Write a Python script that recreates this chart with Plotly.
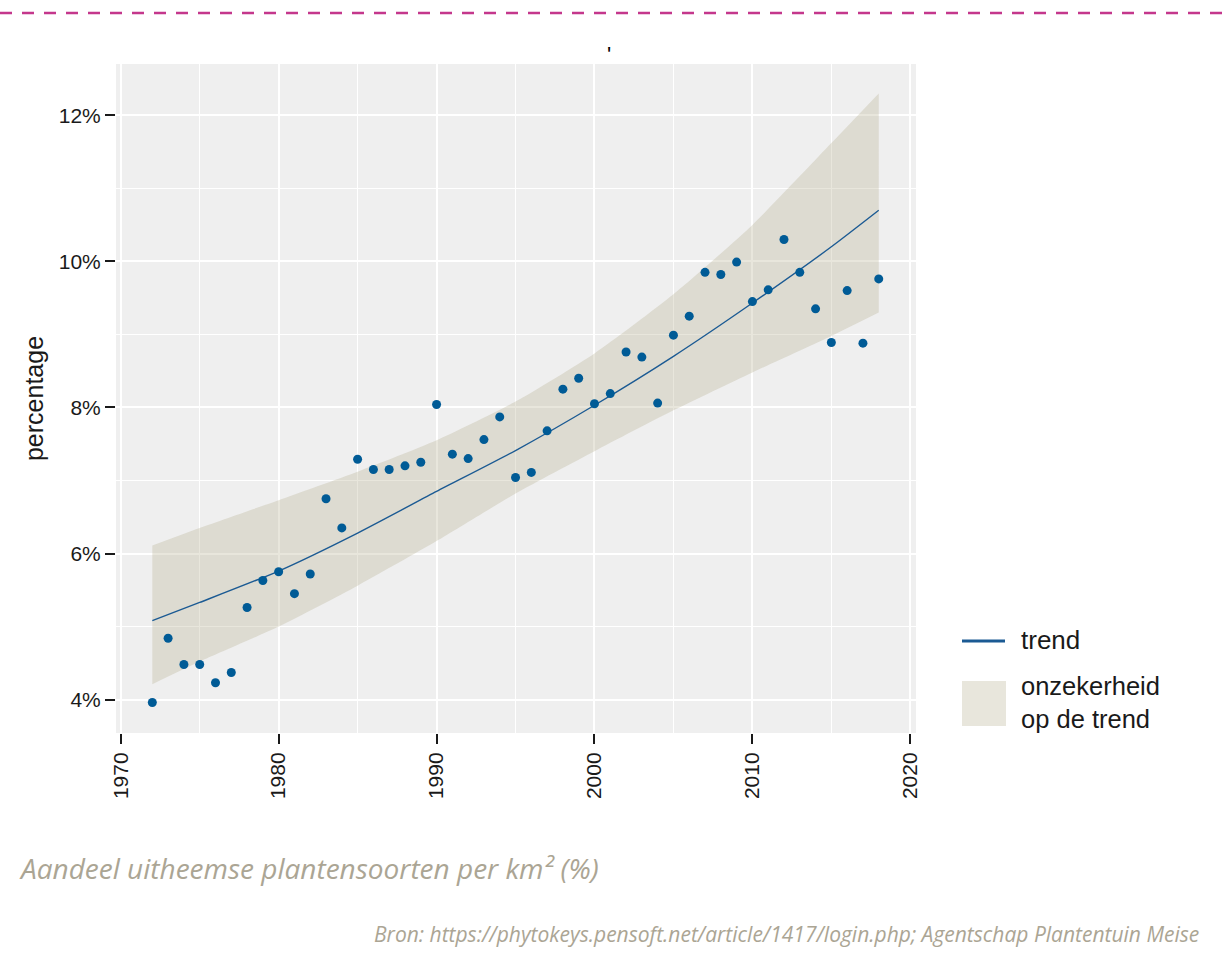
import plotly.graph_objects as go

# Observed share of non-native plant species per km², one value per year
years = list(range(1972, 2019))
share = [3.96, 4.84, 4.48, 4.48, 4.23, 4.37, 5.26, 5.63, 5.75, 5.45,
         5.72, 6.75, 6.35, 7.29, 7.15, 7.15, 7.20, 7.25, 8.04, 7.36,
         7.30, 7.56, 7.87, 7.04, 7.11, 7.68, 8.25, 8.40, 8.05, 8.19,
         8.76, 8.69, 8.06, 8.99, 9.25, 9.85, 9.82, 9.99, 9.45, 9.61,
         10.30, 9.85, 9.35, 8.89, 9.60, 8.88, 9.76]

# Fitted trend with its uncertainty band
fit_years = [1972, 1975, 1980, 1985, 1990, 1995, 2000, 2005, 2010, 2015, 2018]
trend = [5.08, 5.33, 5.76, 6.28, 6.85, 7.41, 8.03, 8.70, 9.43, 10.20, 10.70]
trend_low = [4.21, 4.52, 5.00, 5.56, 6.17, 6.82, 7.40, 7.96, 8.48, 8.98, 9.30]
trend_high = [6.11, 6.35, 6.73, 7.12, 7.55, 8.08, 8.74, 9.55, 10.50, 11.62, 12.30]

y_ticks = [4, 6, 8, 10, 12]
y_tick_labels = [f"{v}%" for v in y_ticks]
x_ticks = [1970, 1980, 1990, 2000, 2010, 2020]

legend_labels = ["trend", "onzekerheid<br>op de trend"]
caption = "Aandeel uitheemse plantensoorten per km² (%)"
source = "Bron: https://phytokeys.pensoft.net/article/1417/login.php; Agentschap Plantentuin Meise"

POINT = "#005b96"
LINE = "#1b5a93"
BAND = "rgba(178,172,138,0.30)"
SWATCH = "#e8e6dc"
TEXT = "#1a1a1a"
NOTE = "#aba594"
FONT = "Liberation Sans, Arial, Helvetica, sans-serif"

W, H = 1222, 970
L, R, T, B = 116, 306, 64, 237


def fx(px):
    return (px - L) / (W - L - R)


def fy(py):
    return (H - B - py) / (H - T - B)


fig = go.Figure()

fig.add_trace(go.Scatter(
    x=fit_years, y=trend_low, mode="lines",
    line=dict(width=0, shape="spline", smoothing=0.6),
    hoverinfo="skip", showlegend=False))
fig.add_trace(go.Scatter(
    x=fit_years, y=trend_high, mode="lines",
    line=dict(width=0, shape="spline", smoothing=0.6),
    fill="tonexty", fillcolor=BAND, hoverinfo="skip", showlegend=False))
fig.add_trace(go.Scatter(
    x=fit_years, y=trend, mode="lines",
    line=dict(color=LINE, width=1.4, shape="spline", smoothing=0.6), showlegend=False))
fig.add_trace(go.Scatter(
    x=years, y=share, mode="markers",
    marker=dict(color=POINT, size=9, line=dict(width=0)), showlegend=False))

fig.update_layout(
    width=W, height=H,
    margin=dict(l=L, r=R, t=T, b=B, autoexpand=False),
    paper_bgcolor="white", plot_bgcolor="#efefef",
    font=dict(family=FONT, color=TEXT),
    showlegend=False,
)

fig.update_xaxes(
    range=[1969.70, 2020.36], tickvals=x_ticks, ticktext=[str(v) for v in x_ticks],
    tickangle=-90, ticks="outside", ticklen=10, tickwidth=2, tickcolor=TEXT,
    tickfont=dict(size=21, color=TEXT), showline=False, zeroline=False,
    showgrid=True, gridcolor="white", gridwidth=2,
    minor=dict(dtick=5, tick0=1965, showgrid=True, gridcolor="white", gridwidth=1.2, ticks=""),
    automargin=False,
)
fig.update_yaxes(
    range=[3.542, 12.703], tickvals=y_ticks, ticktext=y_tick_labels,
    ticks="outside", ticklen=10, tickwidth=2, tickcolor=TEXT,
    tickfont=dict(size=21, color=TEXT), showline=False, zeroline=False,
    showgrid=True, gridcolor="white", gridwidth=2,
    minor=dict(dtick=2, tick0=3, showgrid=True, gridcolor="white", gridwidth=1.2, ticks=""),
    title=dict(text="percentage", font=dict(size=25, color=TEXT), standoff=8),
    automargin=False,
)

shapes = [
    # dashed rule across the top of the page
    dict(type="line", xref="paper", yref="paper", x0=fx(0), x1=fx(W), y0=fy(13), y1=fy(13),
         line=dict(color="#c4378c", width=2.5, dash="12px,10px")),
    # legend key: trend line
    dict(type="line", xref="paper", yref="paper", x0=fx(962), x1=fx(1005), y0=fy(641), y1=fy(641),
         line=dict(color=LINE, width=3)),
    # legend key: uncertainty swatch
    dict(type="rect", xref="paper", yref="paper", x0=fx(962), x1=fx(1006), y0=fy(726), y1=fy(681),
         line=dict(width=0), fillcolor=SWATCH),
]

annotations = [
    dict(text="'", x=fx(609), y=fy(54), xanchor="center", yanchor="middle",
         font=dict(size=22, color="black")),
    dict(text=legend_labels[0], x=fx(1019), y=fy(640), xanchor="left", yanchor="middle",
         font=dict(size=26, color=TEXT)),
    dict(text=legend_labels[1], x=fx(1019), y=fy(702), xanchor="left", yanchor="middle",
         align="left", font=dict(size=25.5, color=TEXT)),
    dict(text=caption, x=fx(17), y=fy(868), xanchor="left", yanchor="middle",
         font=dict(family="Open Sans, sans-serif", size=28, color=NOTE, style="italic")),
    dict(text=source, x=fx(1201), y=fy(934), xanchor="right", yanchor="middle",
         font=dict(family="Open Sans, sans-serif", size=21, color=NOTE, style="italic")),
]
for a in annotations:
    a.update(xref="paper", yref="paper", showarrow=False)

fig.update_layout(shapes=shapes, annotations=annotations)

fig.write_html("out.html")
